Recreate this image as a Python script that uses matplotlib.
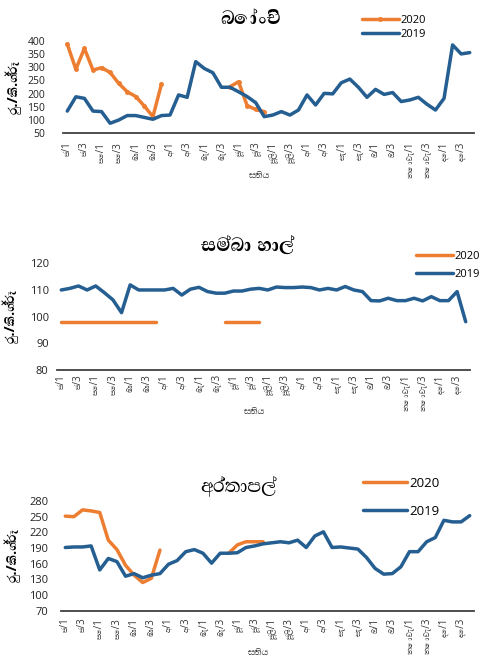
import matplotlib
matplotlib.use("Agg")
import matplotlib.pyplot as plt
import numpy as np

SIN = ['Open Sans', 'Abhaya Libre']
plt.rcParams['font.family'] = SIN

months = ['ජ', 'පෙ', 'මා', 'අ', 'මැ', 'ජූ', 'ජූලි', 'අ', 'සැ', 'ඔ', 'නොවැ', 'දෙ']
weeks = [m + '/' + str(w) for m in months for w in range(1, 5)]

N = None
beans_2019 = [134, 188, 182, 134, 132, 88, 100, 117, 117, 110, 103, 117,
              119, 195, 186, 321, 295, 279, 224, 224, 207, 189, 166, 113,
              119, 132, 119, 138, 195, 157, 201, 199, 241, 255, 224, 186,
              216, 197, 204, 170, 176, 186, 160, 138, 182, 384, 350, 355]
beans_2020 = [387, 292, 371, 289, 298, 280, 239, 207, 189, 153, 113, 236,
              N, N, N, N, N, N, N, 226, 245, 155, 140, 132] + [N] * 24

rice_2019 = [110, 110.6, 111.5, 110, 111.5, 109, 106.3, 101.5, 111.9, 110, 110, 110,
             110, 110.6, 108.1, 110.3, 111, 109.4, 108.8, 108.8, 109.6, 109.6, 110.3, 110.6,
             110, 111.1, 110.9, 110.9, 111.1, 110.9, 110, 110.6, 110, 111.3, 110, 109.4,
             106, 105.9, 106.9, 106, 106, 106.9, 105.9, 107.5, 106, 106, 109.4, 98.1]
rice_2020 = [98] * 12 + [N] * 7 + [98] * 5 + [N] * 24

potato_2019 = [191, 192, 192, 194, 148, 170, 164, 136, 141, 133, 138, 141,
               159, 166, 183, 187, 180, 161, 180, 180, 181, 191, 194, 198,
               200, 202, 200, 205, 191, 213, 221, 191, 192, 190, 188, 172,
               151, 140, 141, 154, 183, 183, 202, 210, 243, 240, 240, 252]
potato_2020 = [251, 250, 263, 261, 258, 205, 187, 157, 138, 124, 132, 186,
               N, N, N, N, N, N, N, 180, 196, 202, 202, 202] + [N] * 24

ORANGE = '#ED7D31'
BLUE = '#255E91'
W, H = 481, 665


def nan(vals):
    return [np.nan if v is None else v for v in vals]


def panel(rect, s2019, s2020, ylim, yticks, title, tbold, tpos, tsize,
          leg, legsp, legsize, ylab_x, ypad, xpad, fsize, marker=None):
    l, t, r, b = rect
    ax = fig.add_axes([l / W, 1 - b / H, (r - l) / W, (b - t) / H])
    x = np.arange(len(weeks))
    ax.plot(x, nan(s2020), color=ORANGE, lw=2.5, label='2020', marker=marker,
            markersize=2.5, solid_capstyle='round', solid_joinstyle='round')
    ax.plot(x, s2019, color=BLUE, lw=2.5, label='2019',
            solid_capstyle='round', solid_joinstyle='round')
    ax.set_xlim(-0.5, len(weeks) - 0.5)
    ax.set_ylim(*ylim)
    ax.set_yticks(yticks)
    ax.tick_params(axis='y', length=0, pad=ypad, labelsize=fsize, colors='#222222')
    ax.set_xticks(x[::2])
    ax.set_xticklabels(weeks[::2], rotation=90, fontsize=7, color='#333333')
    ax.tick_params(axis='x', length=0, pad=xpad)
    for s in ['left', 'right', 'top']:
        ax.spines[s].set_visible(False)
    ax.spines['bottom'].set_color('#404040')
    ax.spines['bottom'].set_linewidth(1.3)
    fig.text(tpos[0] / W, 1 - tpos[1] / H, title, ha='center', va='center',
             fontsize=tsize, fontweight='bold' if tbold else 'normal')
    fig.text(ylab_x / W, 1 - (t + b) / 2 / H, 'රු./කි.ග්‍රෑ', rotation=90,
             ha='center', va='center', fontsize=10.5, fontweight='bold')
    fig.text((l + r) / 2 / W - 0.02, 1 - (b + 42) / H, 'සතිය', ha='center',
             va='center', fontsize=8, color='#333333')
    ax.legend(loc='upper left', bbox_to_anchor=(leg[0] / W, 1 - leg[1] / H),
              bbox_transform=fig.transFigure, frameon=False, fontsize=legsize,
              handlelength=3.3, handletextpad=0.2, borderpad=0, borderaxespad=0,
              labelspacing=legsp)
    return ax


fig = plt.figure(figsize=(W / 100, H / 100), dpi=100)

panel((63, 40.7, 474, 133.3), beans_2019, beans_2020, (50, 400), range(50, 401, 50),
      'බෝංචි', True, (250, 18), 17, (362, 15), 0.25, 8, 15, 13, 6, 7.5, marker='o')
panel((57, 263.3, 470, 370), rice_2019, rice_2020, (80, 120), range(80, 121, 10),
      'සම්බා හාල්', True, (248, 246), 17, (416, 251), 0.6, 8, 12, 6, 3, 8)
panel((61, 501, 474, 610.7), potato_2019, potato_2020, (70, 280), range(70, 281, 30),
      'අර්තාපල්', False, (238, 486), 17, (363, 477), 1.1, 9.5, 14, 9, 5, 8)

fig.savefig('out.png', dpi=100)
